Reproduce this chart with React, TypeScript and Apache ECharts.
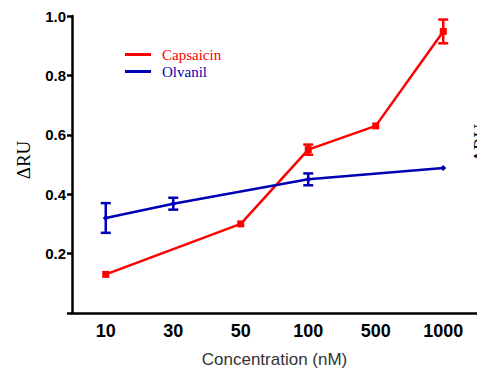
import React, { useEffect, useRef } from "react";
import * as echarts from "echarts";

const categories = ["10", "30", "50", "100", "500", "1000"];
const capsaicin: (number | null)[] = [0.13, null, 0.3, 0.55, 0.63, 0.948];
const capsaicinErr: (number | null)[] = [null, null, null, 0.017, null, 0.04];
const olvanil: (number | null)[] = [0.32, 0.368, null, 0.45, null, 0.488];
const olvanilErr: (number | null)[] = [0.05, 0.02, null, 0.02, null, null];
const yTicks = [0.2, 0.4, 0.6, 0.8, 1.0];

const RED = "#ff0000";
const BLUE = "#0000b4";

function errData(vals: (number | null)[], errs: (number | null)[]) {
  const out: number[][] = [];
  vals.forEach((v, i) => {
    const e = errs[i];
    if (v != null && e != null) out.push([i, v - e, v + e]);
  });
  return out;
}

function errSeries(data: number[][], color: string) {
  return {
    type: "custom",
    data,
    z: 5,
    renderItem: (params: any, api: any) => {
      const x = api.value(0);
      const lo = api.coord([x, api.value(1)]);
      const hi = api.coord([x, api.value(2)]);
      const w = 5;
      const style = { stroke: color, lineWidth: 2.5, fill: "none" };
      return {
        type: "group",
        children: [
          { type: "line", shape: { x1: lo[0], y1: lo[1], x2: hi[0], y2: hi[1] }, style },
          { type: "line", shape: { x1: lo[0] - w, y1: lo[1], x2: lo[0] + w, y2: lo[1] }, style },
          { type: "line", shape: { x1: hi[0] - w, y1: hi[1], x2: hi[0] + w, y2: hi[1] }, style },
        ],
      };
    },
  };
}

export default function App() {
  const ref = useRef<HTMLDivElement>(null);
  useEffect(() => {
    document.body.style.margin = "0";
    const chart = echarts.init(ref.current!, null, { renderer: "svg" });
    const legendFont = { fontFamily: "Liberation Serif", fontSize: 15 };
    chart.setOption({
      animation: false,
      backgroundColor: "#ffffff",
      grid: { left: 72, top: 16, width: 406, bottom: 60 },
      legend: {
        orient: "vertical",
        left: 120,
        top: 42,
        itemGap: 2,
        itemWidth: 26,
        itemHeight: 3,
        icon: "rect",
        data: [
          { name: "Capsaicin", textStyle: { ...legendFont, color: RED } },
          { name: "Olvanil", textStyle: { ...legendFont, color: BLUE } },
        ],
        textStyle: { ...legendFont, padding: [0, 0, 0, 6] },
      },
      xAxis: {
        type: "category",
        data: categories,
        boundaryGap: true,
        name: "Concentration (nM)",
        nameLocation: "middle",
        nameGap: 38,
        nameTextStyle: { fontFamily: "Liberation Sans", fontSize: 17, color: "#333" },
        axisLine: { lineStyle: { color: "#000", width: 2.5 } },
        axisTick: { alignWithLabel: true, length: 5, lineStyle: { color: "#000", width: 2.5 } },
        axisLabel: { color: "#000", fontWeight: "bold", fontSize: 18, fontFamily: "Liberation Sans", margin: 9 },
        splitLine: { show: false },
      },
      yAxis: {
        type: "value",
        min: 0,
        max: 1.0,
        interval: 0.2,
        axisLine: { show: true, lineStyle: { color: "#000", width: 2.5 } },
        axisTick: { show: true, length: 5, lineStyle: { color: "#000", width: 2.5 } },
        axisLabel: {
          color: "#000",
          fontWeight: "bold",
          fontSize: 15,
          fontFamily: "Liberation Sans",
          margin: 6,
          formatter: (v: number) => (yTicks.some((t) => Math.abs(t - v) < 1e-6) ? v.toFixed(1) : ""),
        },
        splitLine: { show: false },
      },
      graphic: [
        {
          type: "text",
          x: 14,
          y: 160,
          rotation: Math.PI / 2,
          style: { text: "ΔRU", font: "19px 'Liberation Serif'", fill: "#000", align: "center", verticalAlign: "top" },
        },
        {
          type: "text",
          x: 471,
          y: 143,
          rotation: Math.PI / 2,
          style: { text: "ΔRU", font: "19px 'Liberation Serif'", fill: "#000", align: "center", verticalAlign: "top" },
        },
      ],
      series: [
        {
          name: "Capsaicin",
          type: "line",
          data: capsaicin,
          connectNulls: true,
          symbol: "rect",
          symbolSize: 7,
          color: RED,
          lineStyle: { color: RED, width: 2.5 },
          itemStyle: { color: RED },
          z: 3,
        },
        {
          name: "Olvanil",
          type: "line",
          data: olvanil,
          connectNulls: true,
          symbol: "diamond",
          symbolSize: 6,
          color: BLUE,
          lineStyle: { color: BLUE, width: 2.5 },
          itemStyle: { color: BLUE },
          z: 4,
        },
        errSeries(errData(capsaicin, capsaicinErr), RED),
        errSeries(errData(olvanil, olvanilErr), BLUE),
      ],
    });
    return () => chart.dispose();
  }, []);
  return <div ref={ref} style={{ width: 477, height: 373 }} />;
}
